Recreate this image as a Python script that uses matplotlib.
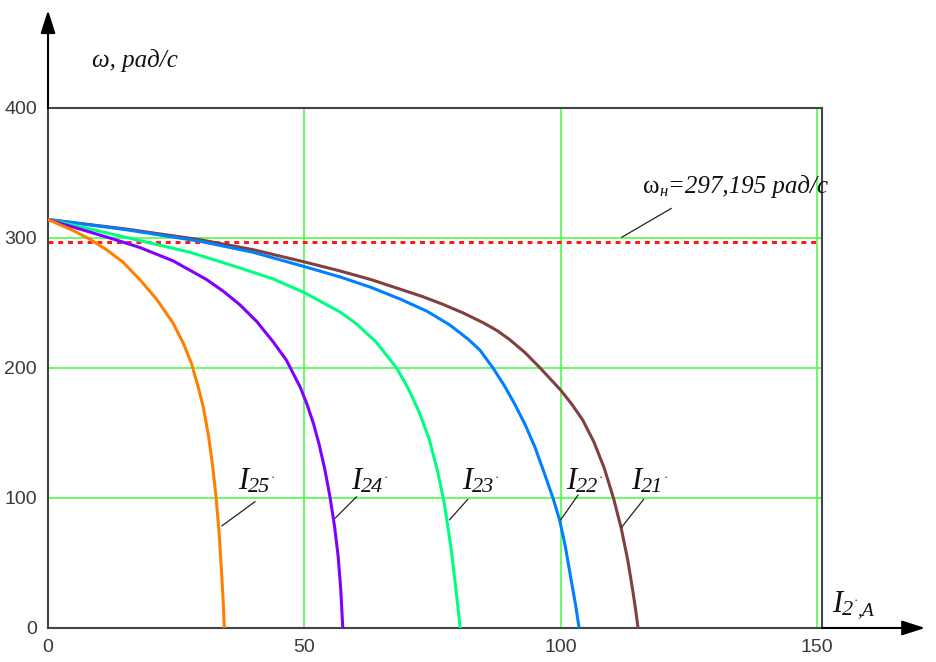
import numpy as np
import matplotlib
matplotlib.use('Agg')
import matplotlib.pyplot as plt

# rheostat characteristics: rotor current I2' [A] vs speed w [rad/s]
i21 = [0, 15, 29.6, 40, 50, 57, 63, 68.7, 73, 77, 81, 84.9, 87.5, 90, 93, 96, 100, 102.2,
       104.3, 106.5, 108.5, 110.3, 111.8, 113.1, 114.1, 114.7, 115.1]
w21 = [314.2, 307, 298.7, 291, 281.6, 274.6, 268, 260.6, 255, 249, 242.3, 234.8, 229, 222, 212, 200,
       183, 172, 160, 143, 123, 100, 77, 52, 28, 12, 0]

i22 = [0, 15, 29.6, 40, 50, 57, 63, 68.7, 74, 78.4, 82, 84.3, 86.8, 89, 91, 93, 95, 97,
       98.5, 99.8, 100.9, 102, 102.9, 103.6]
w22 = [314.2, 306.5, 297.5, 289, 278, 270, 262, 253, 243.5, 233, 222, 213.5, 200, 186.5, 172.5, 157,
       139, 117, 100, 83, 63, 38, 18, 0]

i23 = [0, 8.1, 17.9, 27.7, 37.4, 43.9, 50, 57, 60, 64, 68, 70.3, 72.3, 74.3, 76, 77.3,
       78.6, 79.6, 80.4]
w23 = [314.2, 307, 298, 289, 277, 268.5, 258, 243, 234.5, 220, 200, 184, 167, 146, 120.5, 96,
       62, 29, 0]

i24 = [0, 12.7, 17.9, 24.4, 30.9, 34.2, 37.4, 40.7, 43.9, 46.5, 49.2, 50.5, 51.8, 52.9,
       54.0, 55.0, 55.9, 56.6, 57.1, 57.5]
w24 = [314.2, 299.2, 292.7, 282.4, 268.1, 259, 248.7, 235.8, 220.2, 206, 185.2, 172.3, 157, 141,
       122, 101, 78, 55, 30, 0]

i25 = [0, 4.9, 8.1, 11.4, 14.6, 17.9, 21.2, 24.4, 26.4, 28.0, 29.3, 30.3, 31.3, 32.1,
       32.8, 33.4, 33.9, 34.2, 34.4]
w25 = [314.2, 305.7, 299.2, 291, 281.5, 268, 252.8, 234.5, 218.9, 203.4, 185.2, 169.7, 148, 125,
       100, 72, 40, 18, 0]

w_nom = 297.195

fig = plt.figure(figsize=(9.36, 6.62), dpi=100)
ax = fig.add_axes([0.0513, 0.0514, 0.827, 0.7855])

ax.set_xlim(0, 151)
ax.set_ylim(0, 400)

grid_c = '#3dfc3d'
for gx in [50, 100, 150]:
    ax.axvline(gx, color=grid_c, lw=1.1, zorder=1)
for gy in [100, 200, 300]:
    ax.axhline(gy, color=grid_c, lw=1.1, zorder=1)

ax.axhline(w_nom, color='#ff1a1a', lw=2.2, ls=(0, (1.6, 1.6)), zorder=2)

ax.plot(i21, w21, color='#804040', lw=2.2, zorder=3)
ax.plot(i22, w22, color='#0080ff', lw=2.2, zorder=3)
ax.plot(i23, w23, color='#00ff80', lw=2.2, zorder=3)
ax.plot(i24, w24, color='#8000ff', lw=2.2, zorder=3)
ax.plot(i25, w25, color='#ff8000', lw=2.2, zorder=3)

for s in ax.spines.values():
    s.set_color('#444444')
    s.set_linewidth(1.5)

ax.set_xticks([0, 50, 100, 150])
ax.set_yticks([0, 100, 200, 300, 400])
ax.tick_params(length=0, labelsize=14, labelcolor='#3a3a3a', pad=8)
for lab in ax.get_xticklabels() + ax.get_yticklabels():
    lab.set_family('Liberation Sans')

# axis arrows
arr = dict(arrowstyle='-|>,head_length=1.4,head_width=0.45', color='black', lw=1.5,
           shrinkA=0, shrinkB=0)
ax.annotate('', xy=(1.133, 0), xytext=(1.0, 0), xycoords='axes fraction',
            arrowprops=arr, annotation_clip=False)
ax.annotate('', xy=(0, 1.188), xytext=(0, 1.0), xycoords='axes fraction',
            arrowprops=arr, annotation_clip=False)

renderer = fig.canvas.get_renderer()


def chain(x, y, parts):
    # write pieces one after another, x/y in pixels from top-left
    for txt, size, dy, style in parts:
        t = fig.text(x / 936, 1 - (y + dy) / 662, txt, fontsize=size,
                     family='Liberation Serif', style=style,
                     ha='left', va='baseline', color='#111111')
        x += t.get_window_extent(renderer).width


def curve_label(x, y, num):
    chain(x, y, [('I', 22, 0, 'italic'), (num, 16, 3, 'italic'), ('·', 9, -8, 'normal')])


lead = dict(arrowstyle='-', color='#222222', lw=0.9, shrinkA=0, shrinkB=0)
leaders = [((33.9, 78.5), (40.4, 97.2)), ((56.0, 84.4), (60.2, 101)),
           ((78.3, 83.1), (81.9, 99)), ((100.0, 83.1), (103.4, 102.3)),
           ((111.9, 77.5), (116.2, 99)), ((111.9, 300.5), (121.6, 322.8))]
for p0, p1 in leaders:
    ax.annotate('', xy=p0, xytext=p1, arrowprops=lead)

curve_label(238, 489, '25')
curve_label(351, 489, '24')
curve_label(462, 489, '23')
curve_label(566, 489, '22')
curve_label(631, 489, '21')

chain(643, 193, [('ω', 18, 0, 'normal'), ('н', 12, 3, 'italic'),
                 ('=297,195 рад/с', 18, 0, 'italic')])
chain(92, 67, [('ω, рад/с', 18, 0, 'italic')])
chain(832, 612, [('I', 22, 0, 'italic'), ('2', 16, 3, 'italic'), ('·', 9, -8, 'normal'),
                 (',A', 14, 3, 'italic')])

plt.savefig('out.png', dpi=100)
